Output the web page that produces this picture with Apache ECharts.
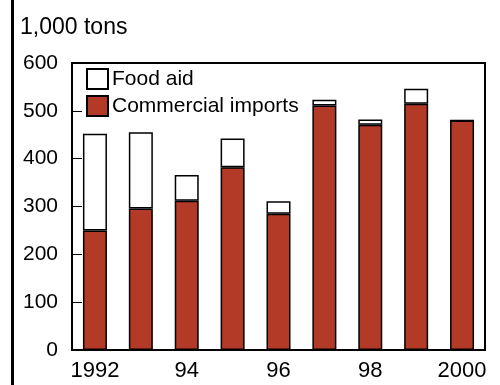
<!DOCTYPE html>
<html><head><meta charset="utf-8">
<script src="https://cdn.jsdelivr.net/npm/echarts@6/dist/echarts.min.js"></script>
<style>html,body{margin:0;padding:0;background:#fff}#c{width:500px;height:385px}</style>
</head><body><div id="c"></div>
<script>
const years = ['1992','1993','1994','1995','1996','1997','1998','1999','2000'];
const commercialImports = [250, 296, 312, 382, 285, 511, 471, 515, 480];
const foodAid = [202, 159, 54, 60, 26, 12, 11, 31, 0];
const yTicks = [0, 100, 200, 300, 400, 500, 600];
const unitLabel = '1,000 tons';

const chart = echarts.init(document.getElementById('c'), null, {renderer: 'canvas'});
const font = '"Liberation Sans", Arial, sans-serif';
chart.setOption({
  animation: false,
  backgroundColor: '#fff',
  graphic: [
    {type: 'line', shape: {x1: 12.5, y1: 0, x2: 12.5, y2: 385}, style: {stroke: '#000', lineWidth: 3}},
    {type: 'text', left: 20, top: 16, style: {text: unitLabel, fill: '#000', font: '23px "Liberation Sans", Arial, sans-serif'}}
  ],
  legend: {orient: 'vertical', left: 86, top: 68, itemWidth: 21, itemHeight: 20, itemGap: 5, padding: 0,
    icon: 'rect',
    data: ['Food aid', 'Commercial imports'],
    textStyle: {fontFamily: font, fontSize: 21, color: '#000', padding: [0,0,0,-1]}},
  grid: {left: 72, right: 15, top: 63, bottom: 35, show: true, borderColor: '#000', borderWidth: 2, backgroundColor: 'transparent'},
  xAxis: {type: 'category', data: years,
    axisLine: {lineStyle: {color: '#000', width: 2}},
    axisTick: {alignWithLabel: true, length: 8, lineStyle: {color: '#000', width: 1}},
    axisLabel: {interval: 0, margin: 10, fontFamily: font, fontSize: 22, color: '#000',
      formatter: (v, i) => i % 2 === 0 ? (i === 0 || i === 8 ? v : v.slice(2)) : ''}},
  yAxis: {type: 'value', min: yTicks[0], max: yTicks[yTicks.length-1], interval: 100,
    splitLine: {show: false},
    axisLine: {show: true, lineStyle: {color: '#000', width: 2}},
    axisTick: {show: true, inside: true, length: 10, lineStyle: {color: '#000', width: 1}},
    axisLabel: {margin: 14, fontFamily: font, fontSize: 21, color: '#000'}},
  series: [
    {name: 'Commercial imports', type: 'bar', stack: 't', data: commercialImports, barWidth: 24,
     itemStyle: {color: '#b33a26', borderColor: '#000', borderWidth: 1.5}},
    {name: 'Food aid', type: 'bar', stack: 't', data: foodAid, barWidth: 24,
     itemStyle: {color: '#fff', borderColor: '#000', borderWidth: 1.5}}
  ]
});
</script></body></html>
